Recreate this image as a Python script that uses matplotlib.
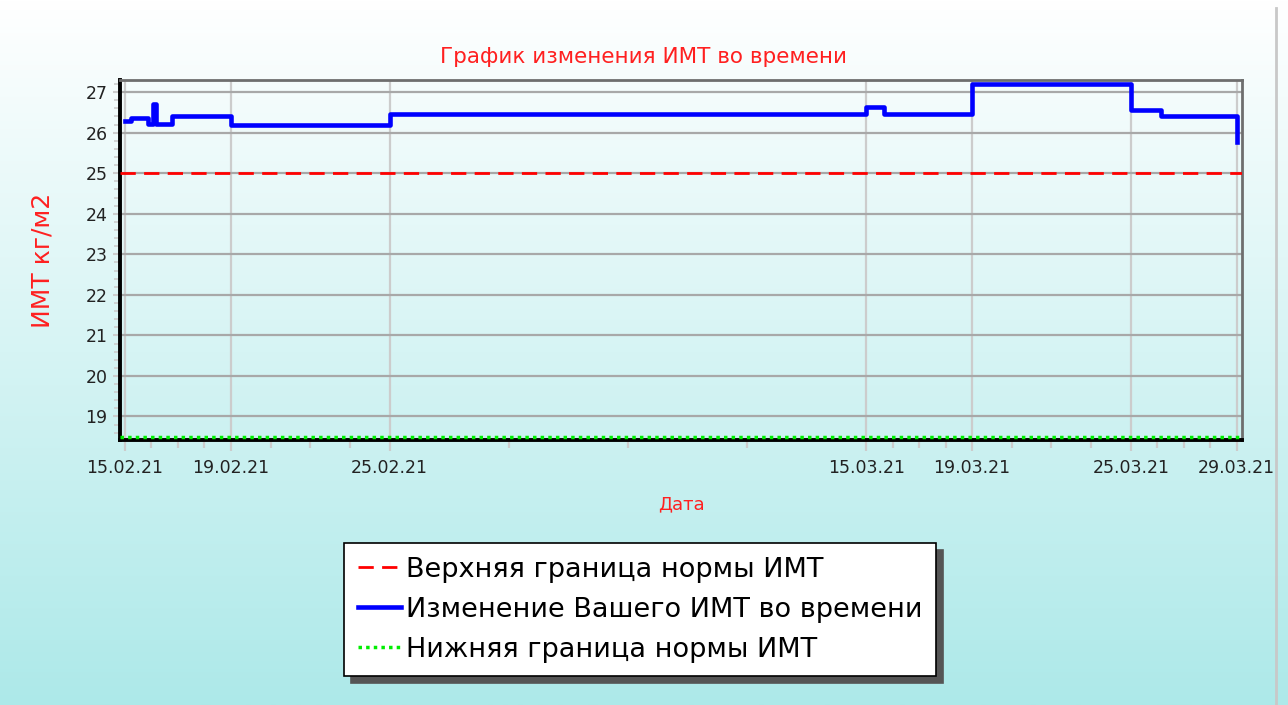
import matplotlib
matplotlib.use("Agg")
import matplotlib.pyplot as plt
import matplotlib.dates as mdates
from matplotlib.lines import Line2D
import numpy as np
import pandas as pd

plt.rcParams["font.family"] = ["DejaVu Sans"]

# BMI measurements (step line)
bmi_dates = [
    "2021-02-15 00:00", "2021-02-15 05:00", "2021-02-15 21:00", "2021-02-16 01:00",
    "2021-02-16 04:00", "2021-02-16 19:00", "2021-02-19 00:00", "2021-02-25 00:00",
    "2021-03-15 00:00", "2021-03-15 16:00", "2021-03-19 00:00", "2021-03-25 00:00",
    "2021-03-26 03:00", "2021-03-29 00:00",
]
bmi_values = [26.28, 26.37, 26.22, 26.70, 26.22, 26.42, 26.20, 26.47,
              26.63, 26.45, 27.20, 26.55, 26.40, 25.78]

upper_norm = 25.0
lower_norm = 18.5
y_ticks = [19, 20, 21, 22, 23, 24, 25, 26, 27]
x_tick_dates = ["2021-02-15", "2021-02-19", "2021-02-25", "2021-03-15",
                "2021-03-19", "2021-03-25", "2021-03-29"]

title = "График изменения ИМТ во времени"
x_label = "Дата"
y_label = "ИМТ кг/м2"
legend_labels = ["Верхняя граница нормы ИМТ", "Изменение Вашего ИМТ во времени",
                 "Нижняя граница нормы ИМТ"]

dates = pd.to_datetime(bmi_dates)
xt = mdates.date2num(pd.to_datetime(x_tick_dates))
x_start = xt[0] - 0.19
x_end = xt[-1] + 0.2

fig = plt.figure(figsize=(12.88, 7.05), dpi=100)

# background gradient, white at top to pale cyan at bottom
bg = fig.add_axes([0, 0, 1, 1], zorder=-10)
grad = np.linspace(0, 1, 256).reshape(-1, 1)
top_c = np.array([1.0, 1.0, 1.0])
bot_c = np.array([0xAD, 0xE9, 0xE9]) / 255
img = top_c + (bot_c - top_c) * grad[..., None]
bg.imshow(img, aspect="auto", extent=[0, 1, 0, 1], origin="upper")
bg.set_axis_off()
fig.add_artist(Line2D([1276 / 1288, 1276 / 1288], [0, 1 - 8 / 705],
                      transform=fig.transFigure, color="#c8c8c8", lw=2))

ax = fig.add_axes([120 / 1288, 1 - 440 / 705, 1122 / 1288, 360 / 705])
ax.set_facecolor("none")

ax.axhline(upper_norm, color="#ff0000", lw=2, ls=(0, (5.5, 3)), label=legend_labels[0], zorder=3)
ax.plot(dates, bmi_values, drawstyle="steps-post", color="#0000ff", lw=3.3,
        label=legend_labels[1], zorder=4)
ax.axhline(lower_norm, color="#00ee00", lw=2.5, ls=(0, (1, 1.2)), label=legend_labels[2], zorder=3)

ax.set_xlim(x_start, x_end)
ax.set_ylim(18.42, 27.3)

ax.set_yticks(y_ticks)
ax.set_yticks(np.arange(18.6, 27.3, 0.2), minor=True)
ax.set_xticks(xt)
minor_x = []
for a, b in zip(xt[:-1], xt[1:]):
    minor_x += list(np.linspace(a, b, 5)[1:-1])
ax.set_xticks(minor_x, minor=True)
ax.xaxis.set_major_formatter(mdates.DateFormatter("%d.%m.%y"))

ax.grid(axis="y", color="#a8a8a8", lw=1.6)
ax.grid(axis="x", color="#cccccc", lw=1.6)
ax.set_axisbelow(True)

ax.tick_params(axis="x", which="major", length=8, width=1.6, color="#cccccc",
               labelsize=12.5, pad=6, labelcolor="#222222")
ax.tick_params(axis="x", which="minor", length=6, width=1.6, color="#cccccc")
ax.tick_params(axis="y", which="major", length=5, width=1.5, color="#cccccc",
               labelsize=12.5, pad=4, labelcolor="#222222")
ax.tick_params(axis="y", which="minor", length=4, width=1.2, color="#cccccc")

for side in ("left", "bottom"):
    ax.spines[side].set_color("black")
    ax.spines[side].set_linewidth(2.8)
for side in ("top", "right"):
    ax.spines[side].set_color("#6e6e6e")
    ax.spines[side].set_linewidth(2)

fig.text(0.5, 1 - 57 / 705, title, color="#ff2020", fontsize=15.5, ha="center", va="center")
ax.set_xlabel(x_label, color="#ff2020", fontsize=13, labelpad=13)
ax.set_ylabel(y_label, color="#ff2020", fontsize=18, labelpad=22)

handles, labels = ax.get_legend_handles_labels()
leg = fig.legend(handles, labels, loc="center", bbox_to_anchor=(0.497, 0.135),
                 fontsize=19.5, frameon=True, fancybox=False,
                 shadow={"ox": 5, "oy": -5, "color": "#555555", "alpha": 1},
                 handlelength=1.6, handletextpad=0.2, borderpad=0.5, labelspacing=0.52,
                 borderaxespad=0, framealpha=1)
leg.get_frame().set_edgecolor("black")
leg.get_frame().set_linewidth(1.2)

fig.savefig("out.png", dpi=100)
